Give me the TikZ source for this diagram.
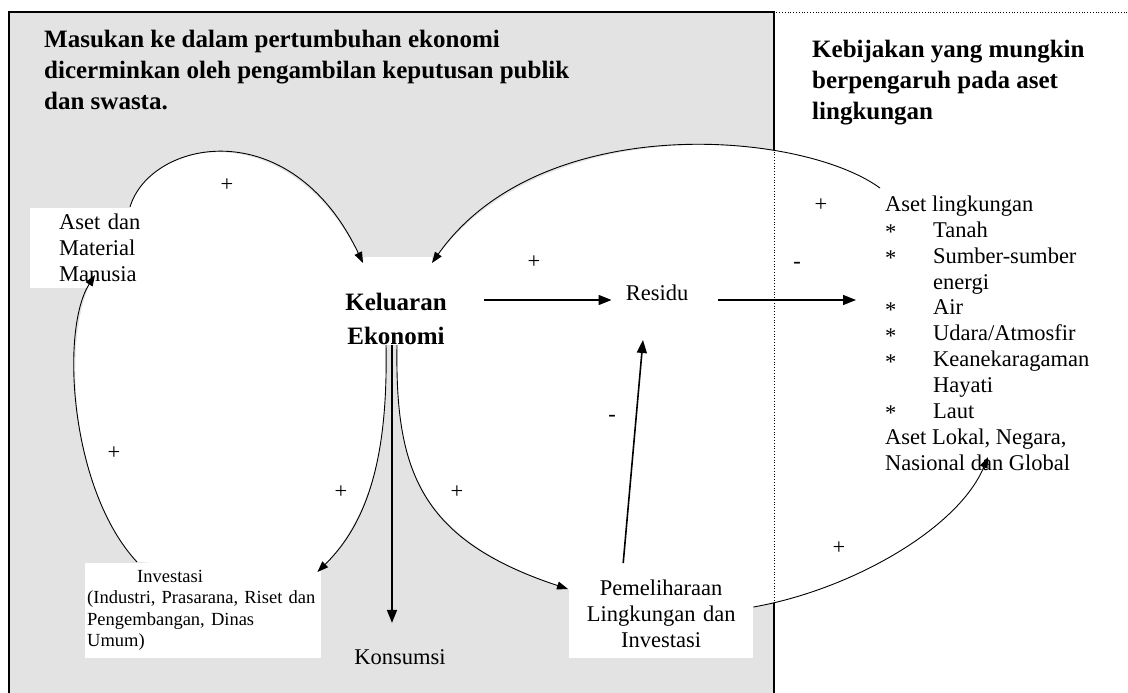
\documentclass[tikz,border=0pt]{standalone}
\usepackage{fontspec}
\setmainfont{Liberation Serif}
\usetikzlibrary{arrows.meta,backgrounds}
\newcommand\bul{\raisebox{-2pt}{*}}

\begin{document}
\begin{tikzpicture}[x=1pt, y=-1pt,
    head/.style = {anchor=north west, align=left, inner sep=0pt, font=\fontsize{25}{31}\selectfont\bfseries},
    txt/.style = {inner sep=0pt, font=\fontsize{22.5}{26}\selectfont},
    whitebox/.style = {fill=white, anchor=north west},
    sign/.style = {inner sep=0pt, font=\fontsize{22.5}{26}\selectfont},
    arr/.style = {-{Triangle[length=13pt,width=10pt]}, line width=1.6pt},
    loopline/.style = {-{Triangle[length=11pt,width=8pt]}, line width=0.9pt}]
    \useasboundingbox (0,0) rectangle (1128,693);

    % headings
    \node[head] (inhead) at (44,30) {Masukan ke dalam pertumbuhan ekonomi\\dicerminkan oleh pengambilan keputusan publik\\dan swasta.};
    \node[head] (polhead) at (812,40) {Kebijakan yang mungkin\\berpengaruh pada aset\\lingkungan};

    % boxes
    \node[txt, whitebox, align=left, text width=92pt, inner xsep=29pt, inner ysep=6pt] (matasset) at (30,208) {Aset dan\\Material\\Manusia};
    \node[txt, anchor=north, align=center, font=\fontsize{25}{34}\selectfont\bfseries] (ecoout) at (396,293) {Keluaran\\Ekonomi};
    \node[txt, anchor=base] (resid) at (657,300) {Residu};
    \node[txt, anchor=base] (konsum) at (400,664) {Konsumsi};
    \node[txt, whitebox, align=left, text width=232pt, inner xsep=2pt, inner ysep=7pt, font=\fontsize{18.5}{21.5}\selectfont] (invest) at (85,563) {\hspace*{50pt}Investasi\\(Industri, Prasarana, Riset dan\\Pengembangan, Dinas\\Umum)};
    \node[txt, whitebox, align=center, text width=176pt, inner xsep=4pt, inner ysep=10pt] (pemel) at (569,570) {Pemeliharaan\\Lingkungan dan\\Investasi};
    \node[txt, anchor=base west] (envasset) at (885,211) {\begin{tabular}[t]{@{}p{48pt}@{}l@{}}
        \multicolumn{2}{@{}l@{}}{Aset lingkungan}\\
        \bul & Tanah\\
        \bul & Sumber-sumber\\
             & energi\\
        \bul & Air\\
        \bul & Udara/Atmosfir\\
        \bul & Keanekaragaman\\
             & Hayati\\
        \bul & Laut\\
        \multicolumn{2}{@{}l@{}}{Aset Lokal, Negara,}\\
        \multicolumn{2}{@{}l@{}}{Nasional dan Global}
    \end{tabular}};

    % signs
    \node[sign] (pl1) at (227,185) {+};
    \node[sign] (pl2) at (534,262) {+};
    \node[sign] (pl3) at (821,205) {+};
    \node[sign] (pl4) at (114,453) {+};
    \node[sign] (pl5) at (341,492) {+};
    \node[sign] (pl6) at (457,492) {+};
    \node[sign] (pl7) at (839,548) {+};
    \node[sign] (mn1) at (797,265) {-};
    \node[sign] (mn2) at (612,418) {-};

    % ends of the connectors
    \coordinate (ma1) at ([xshift=100pt,yshift=1pt]matasset.north west);
    \coordinate (ma2) at ([xshift=65pt,yshift=-67pt]matasset.north west);
    \coordinate (eo1) at ([xshift=-33pt,yshift=30pt]ecoout.north);
    \coordinate (eo2) at ([xshift=36pt,yshift=30pt]ecoout.north);
    \coordinate (eo3) at ([xshift=-10pt]ecoout.south);
    \coordinate (eo4) at ([xshift=-4pt]ecoout.south);
    \coordinate (eo5) at ([xshift=1pt]ecoout.south);
    \coordinate (ea1) at ([xshift=-5pt,yshift=23pt]envasset.base west);
    \coordinate (ea2) at ([xshift=103pt,yshift=-246pt]envasset.base west);
    \coordinate (iv1) at ([xshift=52pt,yshift=1pt]invest.north west);
    \coordinate (iv2) at ([xshift=-4pt,yshift=-9pt]invest.north east);
    \coordinate (pm1) at ([xshift=-1pt,yshift=-19pt]pemel.north west);
    \coordinate (pm2) at ([yshift=-37pt]pemel.north east);
    \coordinate (pm3) at ([xshift=-38pt,yshift=7pt]pemel.north);
    \coordinate (ks1) at ([xshift=-8pt,yshift=26pt]konsum.north);
    \coordinate (rs1) at ([xshift=-14pt,yshift=-40pt]resid.base);

    % panels
    \begin{scope}[on background layer]
        \filldraw[fill=gray!22, draw=black, line width=1.5pt] (9,12) rectangle (774,710);
        \fill[white] (ma1) .. controls +(20,-67) and +(-73,-153) .. (eo1) -- ([yshift=6pt]eo1) -- ([yshift=6pt]eo2) -- (eo2)
            .. controls +(108,-153) and +(-80,-58) .. (ea1) -- (ea2)
            .. controls +(-30,72) and +(97,-17) .. (pm2) -- (pm1)
            .. controls +(-148,-49) and +(-2,126) .. (eo5) -- (eo3)
            .. controls +(2,106) and +(53,-52) .. (iv2) -- (iv1)
            .. controls +(-67,-72) and +(-35,55) .. (ma2) -- cycle;
        \draw[dotted, line width=0.8pt] (1130,12) -- (774,12) -- (774,700);
    \end{scope}

    % connectors
    \draw[loopline] (ma1) .. controls +(20,-67) and +(-73,-153) .. (eo1);
    \draw[loopline] (ea1) .. controls +(-80,-58) and +(108,-153) .. (eo2);
    \draw[loopline] (iv1) .. controls +(-67,-72) and +(-35,55) .. (ma2);
    \draw[loopline] (eo3) .. controls +(2,106) and +(53,-52) .. (iv2);
    \draw[loopline] (eo5) .. controls +(-2,126) and +(-148,-49) .. (pm1);
    \draw[loopline] (pm2) .. controls +(97,-17) and +(-30,72) .. (ea2);
    \draw[arr] (eo4) -- (ks1);
    \draw[arr] (pm3) -- (rs1);
    \draw[arr, shorten <=37pt, shorten >=14pt] (ecoout.east |- resid.base) -- (resid.base west);
    \draw[arr, shorten <=30pt, shorten >=29pt] (resid.base east) -- (envasset.west |- resid.base);
\end{tikzpicture}
\end{document}
